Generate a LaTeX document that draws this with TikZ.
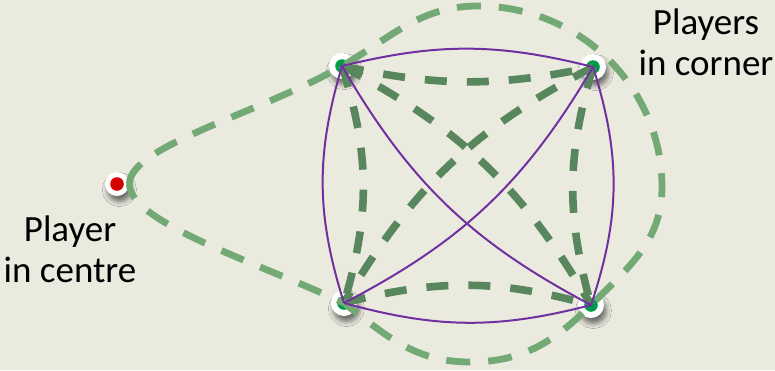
\documentclass[tikz,border=0pt]{standalone}
\usepackage{fontspec}
\setmainfont{Carlito}
\usetikzlibrary{shadows.blur}

\definecolor{bgcream}{RGB}{235,234,223}
\definecolor{linkpurple}{RGB}{112,48,160}
\definecolor{passdark}{RGB}{88,135,93}
\definecolor{passlight}{RGB}{114,169,117}
\definecolor{dotgreen}{RGB}{0,182,84}
\definecolor{dotgreendark}{RGB}{0,140,66}
\definecolor{dotred}{RGB}{245,0,0}
\definecolor{dotreddark}{RGB}{200,0,0}

\begin{document}
\begin{tikzpicture}[x=0.5pt,y=-0.5pt,
        disc/.style={circle,fill=white,inner sep=0pt,minimum size=13pt,
            blur shadow={shadow xshift=1.2pt,shadow yshift=-2.8pt,shadow blur radius=2.5pt,shadow opacity=55}},
        cornerdot/.style={disc,path picture={\shade[inner color=dotgreendark,outer color=dotgreen]
            (path picture bounding box.center) circle (3.4pt);}},
        middledot/.style={disc,minimum size=12pt,path picture={\shade[inner color=dotreddark,outer color=dotred]
            (path picture bounding box.center) circle (3.4pt);}},
        purpleline/.style={linkpurple,line width=1pt},
        darkpass/.style={passdark,line width=3.8pt,dash pattern=on 11pt off 10pt},
        lightpass/.style={passlight,line width=3.4pt,dash pattern=on 12pt off 9pt},
        caption/.style={font=\fontsize{18.5}{20.5}\selectfont,align=center}
    ]
    \fill[bgcream] (0,0) rectangle (775,370);
    \useasboundingbox (0,0) rectangle (775,370);

    % players
    \node[middledot] (C) at (117,184) {};
    \node[cornerdot] (TL) at (342,66) {};
    \node[cornerdot] (TR) at (593,67) {};
    \node[cornerdot] (BL) at (344,303) {};
    \node[cornerdot] (BR) at (591,305) {};

    \coordinate (peak) at (478,6);
    \coordinate (rim) at (662,187);
    \coordinate (trough) at (470,362);

    % passes between the corners
    \draw[darkpass] (TL.center) to[bend right=12] (TR.center);
    \draw[darkpass] (BL.center) to[bend left=15] (BR.center);
    \draw[darkpass] (TL.center) to[bend left=17] (BL.center);
    \draw[darkpass] (TR.center) to[bend right=16] (BR.center);
    \draw[darkpass] (TL.center) to[bend left=16] (BR.center);
    \draw[darkpass] (TR.center) to[bend right=16] (BL.center);

    % round the outside
    \draw[lightpass] (C.east) to[out=90,in=210,out looseness=0.4] (TL.center)
        to[out=30,in=180] (peak)
        to[out=0,in=90] (rim)
        to[out=-90,in=45] (BR.center)
        to[out=225,in=0] (trough)
        to[out=180,in=-38] (BL.center)
        to[out=155,in=-90,in looseness=0.4] (C.east);

    \draw[purpleline] (TL.center) to[bend left=14] (TR.center);
    \draw[purpleline] (BL.center) to[bend right=15] (BR.center);
    \draw[purpleline] (TL.center) to[bend right=17] (BL.center);
    \draw[purpleline] (TR.center) to[bend left=18] (BR.center);
    \draw[purpleline] (TL.center) to[bend right=16] (BR.center);
    \draw[purpleline] (TR.center) to[bend left=16] (BL.center);

    \node[caption,anchor=base] (cornertext) at (706,75) {Players\\in corner};
    \node[caption,anchor=base] (centretext) at (70,282) {Player\\in centre};
\end{tikzpicture}
\end{document}
